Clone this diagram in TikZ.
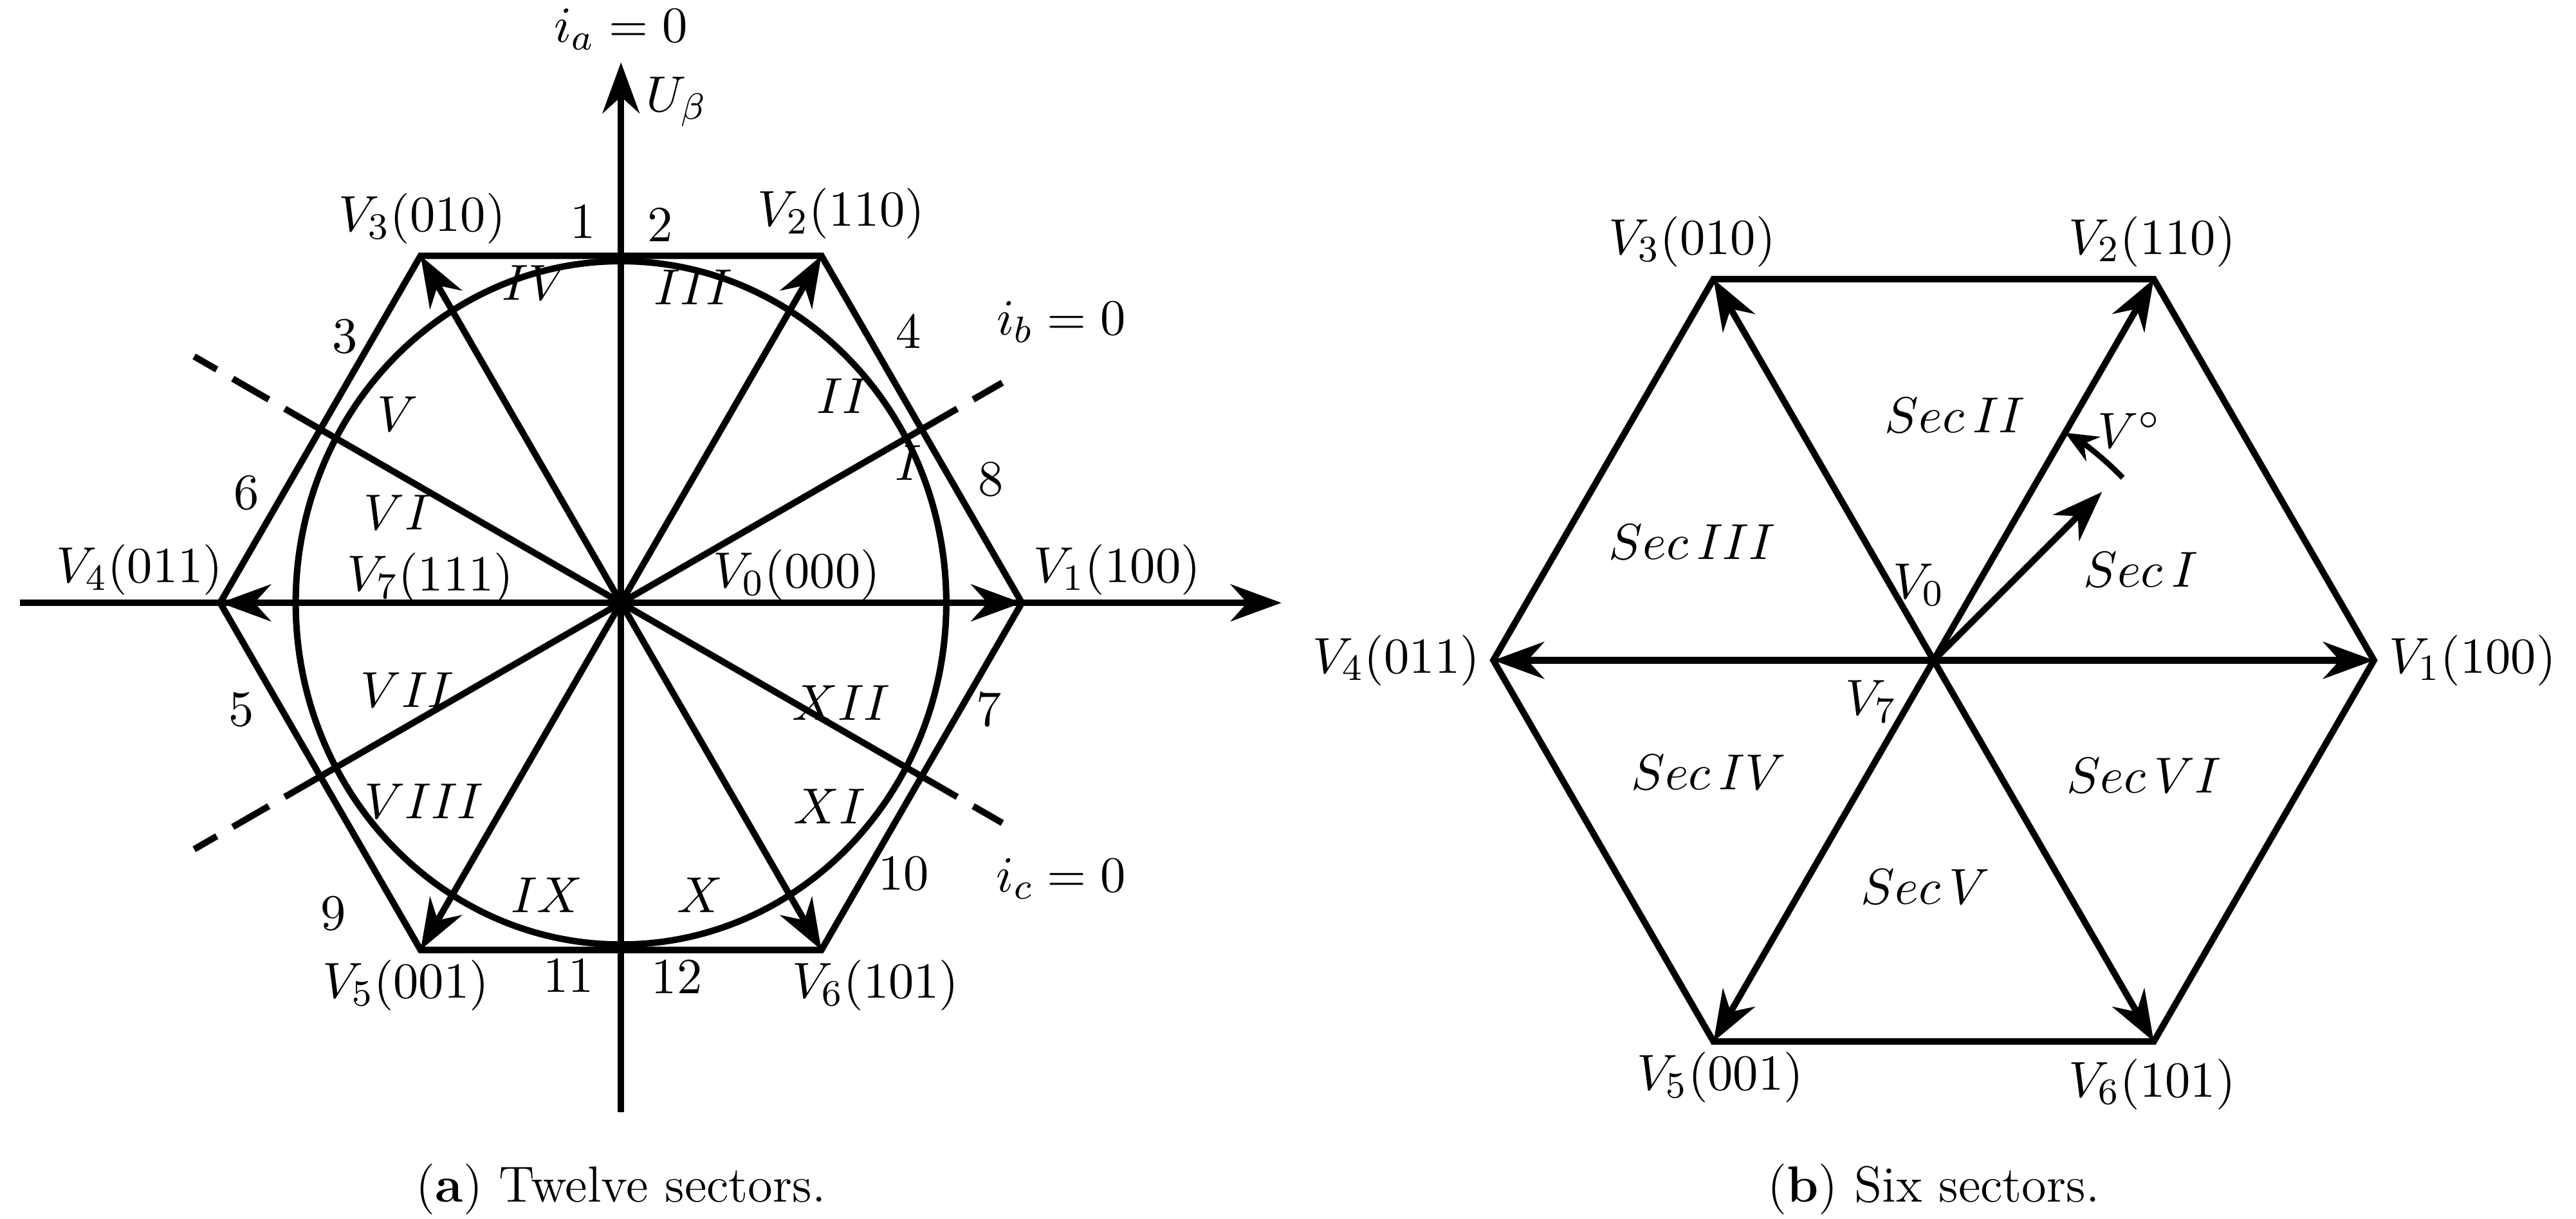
\documentclass[tikz,border=0pt]{standalone}
\usetikzlibrary{arrows.meta,calc}
\begin{document}
\begin{tikzpicture}[x=0.0125cm,y=0.0125cm,
  font=\fontsize{11}{13}\selectfont,
  ln/.style={line width=1.4pt},
  arr/.style={line width=1.4pt,-{Stealth[length=11pt,width=8pt]}},
  lab/.style={inner sep=1pt}]
\useasboundingbox (0,0) rectangle (1568,742);
% ---------- left panel ----------
\coordinate (L) at (378,375);
\foreach \i/\a in {1/0,2/60,3/120,4/180,5/240,6/300}{
  \coordinate (A\i) at ($(L)+(\a:244)$);}
\draw[ln] (A1)--(A2)--(A3)--(A4)--(A5)--(A6)--cycle;
\draw[ln] (L) ellipse [x radius=198, y radius=208];
\coordinate (xl) at (12,375); \coordinate (xr) at (780,375);
\coordinate (yb) at (378,65); \coordinate (yt) at (378,704);
\draw[arr] (xl)--(xr);
\draw[arr] (yb)--(yt);
\foreach \i in {1,...,6}{\draw[arr] (L)--(A\i);}
\foreach \a/\r in {30/268,150/300,210/300,330/268}{
  \coordinate (d\a) at ($(L)+(\a:\r)$);
  \coordinate (s\a) at ($(L)+(\a:211)$);
  \draw[ln] (L)--(s\a);
  \draw[ln,dash pattern=on 9pt off 4pt] (s\a)--(d\a);}
\node[lab] (ia) at (378,724) {$i_a=0$};
\node[lab] (ub) at (412,680) {$U_\beta$};
\node[lab] (ib) at (646,546) {$i_b=0$};
\node[lab] (ic) at (646,207) {$i_c=0$};
\node[lab] (v1) at (680,395) {$V_1(100)$};
\node[lab] (v2) at (512,612) {$V_2(110)$};
\node[lab] (v3) at (257,609) {$V_3(010)$};
\node[lab] (v4) at (85,395) {$V_4(011)$};
\node[lab] (v5) at (247,142) {$V_5(001)$};
\node[lab] (v6) at (533,142) {$V_6(101)$};
\node[lab] (v7) at (262,390) {$V_7(111)$};
\node[lab] (v0) at (485,392) {$V_0(000)$};
\foreach \t/\x/\y in {1/355/607,2/402/605,4/553/540,8/603/450,7/602/310,10/550/210,12/412/147,11/346/148,9/203/186,5/147/310,6/150/442,3/210/537}{
  \node[lab] (n\t) at (\x,\y) {$\t$};}
\foreach \t/\x/\y [count=\k] in {I/553/460,II/513/501,III/422/567,IV/326/570,V/242/490,VI/242/430,VII/248/322,VIII/258/254,IX/333/197,X/426/197,XI/505/251,XII/512/314}{
  \node[lab] (r\k) at (\x,\y) {$\t$};}
\node[lab] (capa) at (378,18) {(\textbf{a}) Twelve sectors.};
% ---------- right panel ----------
\coordinate (R) at (1177,340);
\foreach \i/\a in {1/0,2/60,3/120,4/180,5/240,6/300}{
  \coordinate (B\i) at ($(R)+(\a:268)$);}
\draw[ln] (B1)--(B2)--(B3)--(B4)--(B5)--(B6)--cycle;
\foreach \i in {1,...,6}{\draw[arr] (R)--(B\i);}
\coordinate (vo) at ($(R)+(45:145)$);
\draw[arr] (R)--(vo);
\coordinate (arcs) at ($(R)+(44:160)$);
\draw[line width=1.2pt,-{Stealth[length=7pt,width=6pt]}] (arcs) arc (44:60:160);
\node[lab] (vdeg) at (1296,480) {$V^{\circ}$};
\node[lab] (w0) at (1168,386) {$V_0$};
\node[lab] (w7) at (1139,315) {$V_7$};
\node[lab] (w1) at (1505,340) {$V_1(100)$};
\node[lab] (w2) at (1310,595) {$V_2(110)$};
\node[lab] (w3) at (1030,595) {$V_3(010)$};
\node[lab] (w4) at (850,340) {$V_4(011)$};
\node[lab] (w5) at (1047,86) {$V_5(001)$};
\node[lab] (w6) at (1310,82) {$V_6(101)$};
\foreach \t/\x/\y [count=\k] in {I/1303/395,II/1190/489,III/1030/412,IV/1040/272,V/1172/202,VI/1305/270}{
  \node[lab] (s\k) at (\x,\y) {$Sec\,\t$};}
\node[lab] (capb) at (1177,18) {(\textbf{b}) Six sectors.};
\end{tikzpicture}
\end{document}
